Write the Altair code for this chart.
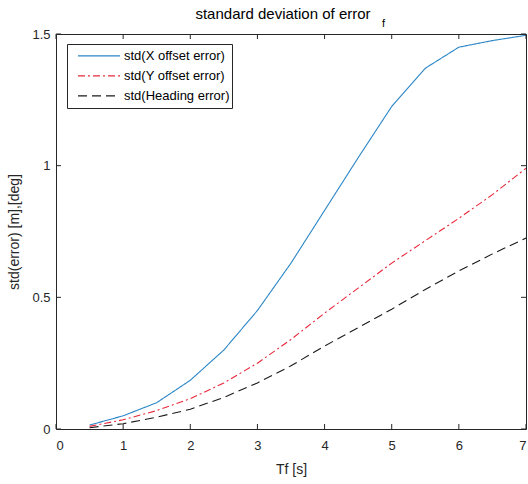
import altair as alt
import pandas as pd

tf = [0.5, 1.0, 1.5, 2.0, 2.5, 3.0, 3.5, 4.0, 4.5, 5.0, 5.5, 6.0, 6.5, 7.0]
x_err = [0.015, 0.05, 0.10, 0.185, 0.30, 0.45, 0.63, 0.83, 1.03, 1.225, 1.37, 1.45, 1.475, 1.495]
y_err = [0.01, 0.035, 0.07, 0.115, 0.175, 0.25, 0.34, 0.44, 0.535, 0.63, 0.715, 0.80, 0.89, 0.99]
h_err = [0.005, 0.02, 0.045, 0.075, 0.12, 0.175, 0.24, 0.315, 0.385, 0.455, 0.53, 0.60, 0.665, 0.725]

series_names = ["std(X offset error)", "std(Y offset error)", "std(Heading error)"]
series_colors = ["#2a86c6", "#e8283a", "#1a1a1a"]
series_dashes = [[1, 0], [7, 3, 2, 3], [9, 5]]

x_ticks = [0, 1, 2, 3, 4, 5, 6, 7]
y_ticks = [0, 0.5, 1, 1.5]

title_main = ["standard deviation of error"]
title_sub = ["f"]

rows = []
for name, vals in zip(series_names, [x_err, y_err, h_err]):
    for t, v in zip(tf, vals):
        rows.append({"tf": t, "value": v, "series": name})
df = pd.DataFrame(rows)

W, H = 470, 395
FONT = "Liberation Sans"
AX = "#262626"

xscale = alt.Scale(domain=[0, 7], nice=False, zero=False)
yscale = alt.Scale(domain=[0, 1.5], nice=False)

legend_opts = dict(title=None, orient="none", legendX=11, legendY=10,
                   symbolType="stroke", symbolSize=1764, symbolStrokeWidth=1.1,
                   symbolOffset=8, labelOffset=3, padding=2, rowPadding=0,
                   clipHeight=19.8, labelExpr="datum.label + '\u00a0\u00a0\u00a0'",
                   labelFont=FONT, labelFontSize=13, labelColor="#000",
                   fillColor="white", strokeColor=AX, labelLimit=300)

lines = alt.Chart(df).mark_line(strokeWidth=1.1, clip=True).encode(
    x=alt.X("tf:Q", scale=xscale,
            axis=alt.Axis(values=x_ticks, format="d", title="Tf [s]", domain=False, ticks=False,
                          grid=False, labelFont=FONT, labelFontSize=13, labelColor=AX,
                          labelPadding=10, titleFont=FONT, titleFontSize=14,
                          titleFontWeight="normal", titleColor=AX, titlePadding=10)),
    y=alt.Y("value:Q", scale=yscale,
            axis=alt.Axis(values=y_ticks, format="~g", title="std(error) [m],[deg]", domain=False,
                          ticks=False, grid=False, labelFont=FONT, labelFontSize=13,
                          labelColor=AX, labelPadding=6, titleFont=FONT, titleFontSize=14,
                          titleFontWeight="normal", titleColor=AX, titlePadding=10)),
    color=alt.Color("series:N", scale=alt.Scale(domain=series_names, range=series_colors),
                    legend=alt.Legend(**legend_opts)),
    strokeDash=alt.StrokeDash("series:N", scale=alt.Scale(domain=series_names, range=series_dashes),
                              legend=alt.Legend(**legend_opts)),
    order=alt.Order("tf:Q"),
)

xt = pd.DataFrame({"v": x_ticks})
yt = pd.DataFrame({"v": y_ticks})
TK = 5
tick_style = dict(color=AX, strokeWidth=1)
bottom_ticks = alt.Chart(xt).mark_rule(**tick_style).encode(
    x=alt.X("v:Q", scale=xscale), y=alt.value(H), y2=alt.value(H - TK))
top_ticks = alt.Chart(xt).mark_rule(**tick_style).encode(
    x=alt.X("v:Q", scale=xscale), y=alt.value(0), y2=alt.value(TK))
left_ticks = alt.Chart(yt).mark_rule(**tick_style).encode(
    y=alt.Y("v:Q", scale=yscale), x=alt.value(0), x2=alt.value(TK))
right_ticks = alt.Chart(yt).mark_rule(**tick_style).encode(
    y=alt.Y("v:Q", scale=yscale), x=alt.value(W), x2=alt.value(W - TK))

title_text = alt.Chart(pd.DataFrame({"t": title_main})).mark_text(
    font=FONT, fontSize=15, color="#000", align="center", baseline="alphabetic").encode(
    text="t:N", x=alt.value(227), y=alt.value(-15))
sub = alt.Chart(pd.DataFrame({"t": title_sub})).mark_text(
    font=FONT, fontSize=11, color="#000", align="left", baseline="alphabetic").encode(
    text="t:N", x=alt.value(326), y=alt.value(-7))

chart = alt.layer(lines, bottom_ticks, top_ticks, left_ticks, right_ticks,
                  title_text, sub).properties(
    width=W, height=H,
    padding={"left": 56, "top": 34, "right": 2, "bottom": 55},
    autosize=alt.AutoSizeParams(type="none"),
).configure_view(stroke=AX, strokeWidth=1).resolve_scale(color="shared")

chart.save("out.html", embed_options={"renderer": "svg", "actions": False})
